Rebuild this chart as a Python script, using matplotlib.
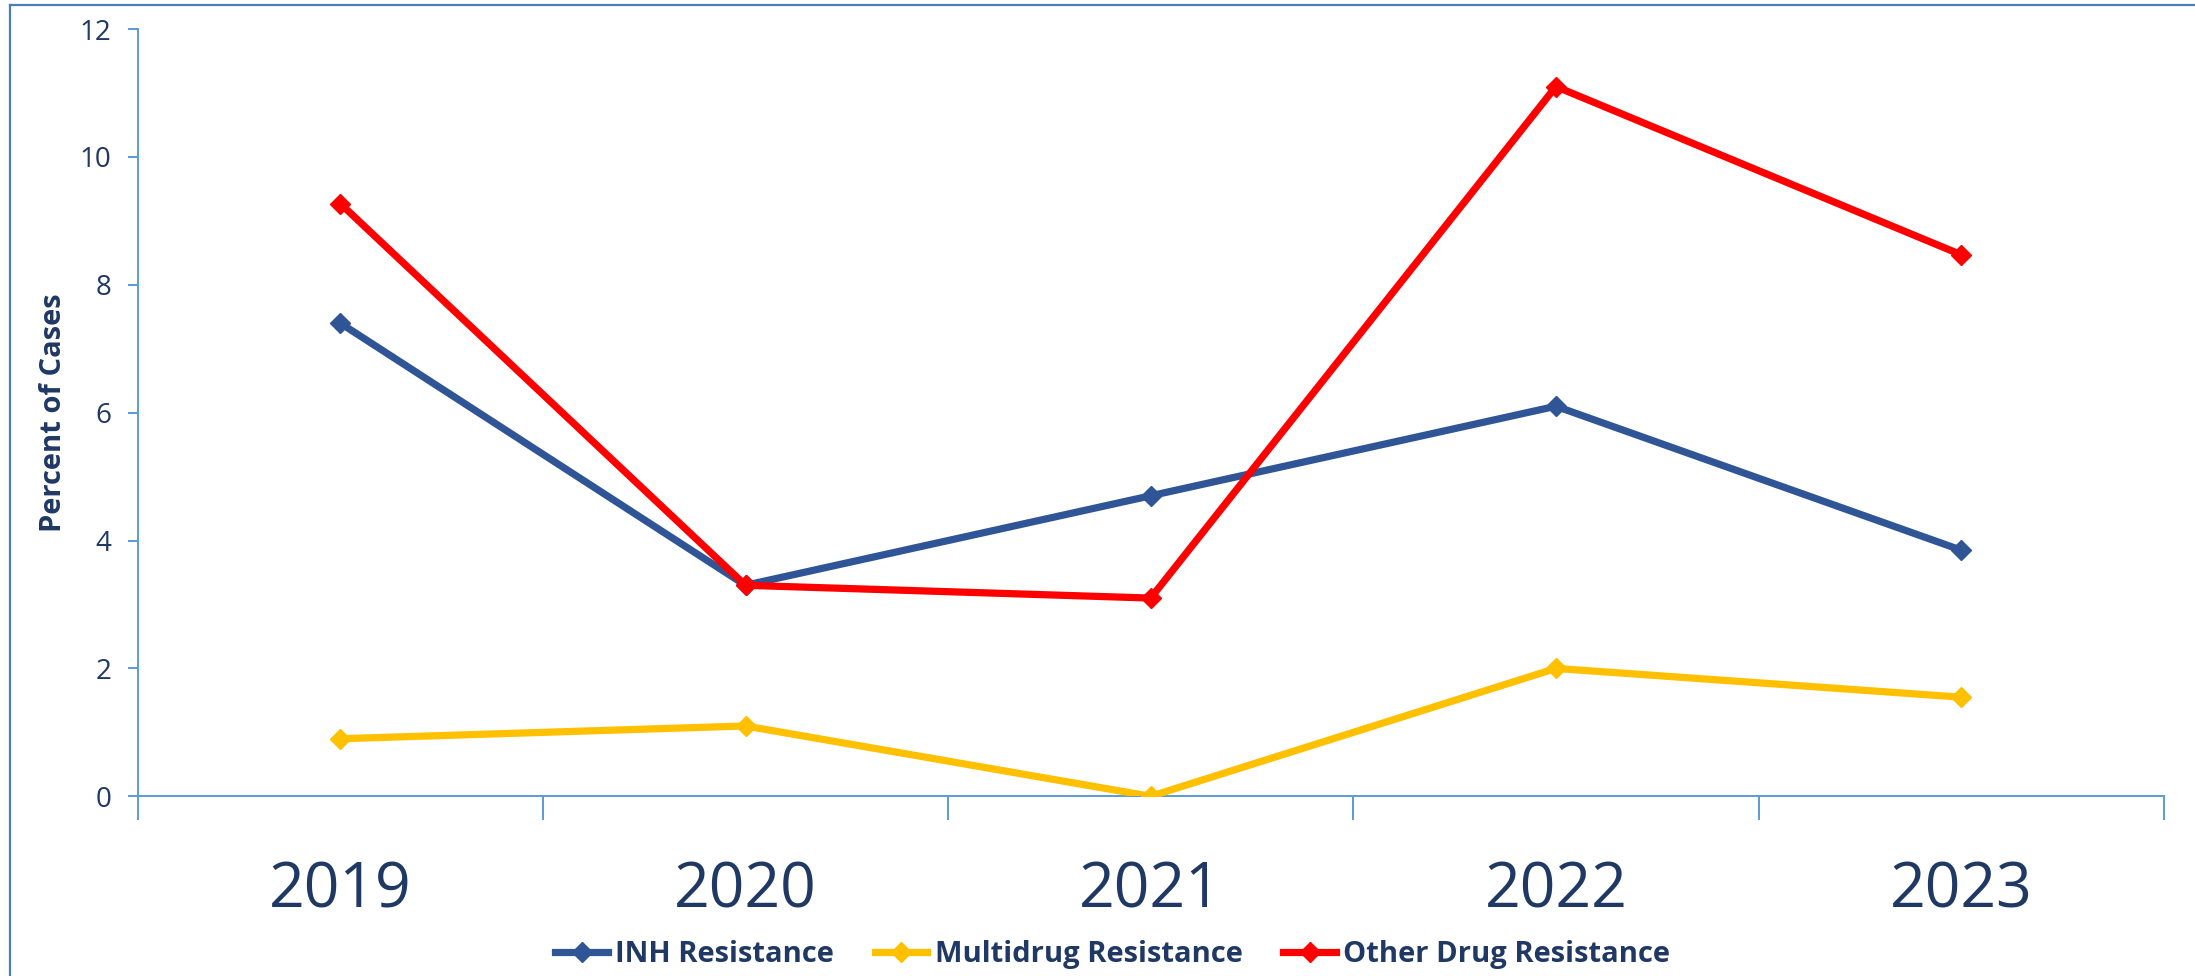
import matplotlib
matplotlib.use("Agg")
import matplotlib.pyplot as plt
from matplotlib.lines import Line2D

years = ["2019", "2020", "2021", "2022", "2023"]
inh = [7.4, 3.3, 4.7, 6.1, 3.85]
multidrug = [0.9, 1.1, 0.0, 2.0, 1.55]
other = [9.27, 3.3, 3.1, 11.1, 8.47]
series_names = ["INH Resistance", "Multidrug Resistance", "Other Drug Resistance"]
colors = ["#2F5597", "#FFC000", "#FF0000"]
yticks = [0, 2, 4, 6, 8, 10, 12]

plt.rcParams['font.family'] = ['Open Sans', 'DejaVu Sans']
text_color = "#1F3864"
axis_color = "#5B9BD5"

W, H = 2195, 976
fig = plt.figure(figsize=(W / 100, H / 100), dpi=100)
ax = fig.add_axes([137.7 / W, 1 - 796.3 / H, (2163.7 - 137.7) / W, (796.3 - 29) / H])

x = list(range(len(years)))
for vals, c in zip([inh, multidrug, other], colors):
    ax.plot(x, vals, color=c, lw=5.2, marker='D', ms=10, mfc=c, mec=c,
            solid_joinstyle='round', zorder=3)

ax.set_xlim(-0.5, len(years) - 0.5)
ax.set_ylim(0, 12)
ax.set_yticks(yticks)
ax.set_yticklabels([str(v) for v in yticks], fontsize=20, color=text_color)
ax.set_xticks([i - 0.5 for i in range(len(years) + 1)])
ax.set_xticklabels([])
ax.set_xticks(x, minor=True)
ax.set_xticklabels(years, minor=True, fontsize=45, color=text_color)
ax.tick_params(axis='x', which='major', length=17, width=1.4, color=axis_color, direction='out')
ax.tick_params(axis='x', which='minor', length=0, pad=46)
ax.tick_params(axis='y', length=7, width=1.4, color=axis_color, direction='out', pad=12)
for s in ['top', 'right']:
    ax.spines[s].set_visible(False)
for s in ['left', 'bottom']:
    ax.spines[s].set_color(axis_color)
    ax.spines[s].set_linewidth(1.4)

ax.set_ylabel("Percent of Cases", fontsize=21, fontweight='bold', color=text_color, labelpad=8)

handles = [Line2D([0], [0], color=c, lw=5.2, marker='D', ms=10, mfc=c, mec=c) for c in colors]
leg = fig.legend(handles, series_names, loc='center', bbox_to_anchor=(0.507, 0.022),
                 ncol=3, frameon=False, handlelength=1.8, handletextpad=0.25,
                 columnspacing=1.4, prop={'size': 21, 'weight': 'bold'})
for t in leg.get_texts():
    t.set_color(text_color)

# outer border
border_color = "#4A7EBB"
fig.add_artist(Line2D([10 / W, 10 / W], [0, 1 - 5 / H], color=border_color, lw=1.6,
                      transform=fig.transFigure))
fig.add_artist(Line2D([10 / W, 1], [1 - 5 / H, 1 - 5 / H], color=border_color, lw=1.6,
                      transform=fig.transFigure))

fig.savefig("out.png", dpi=100)
